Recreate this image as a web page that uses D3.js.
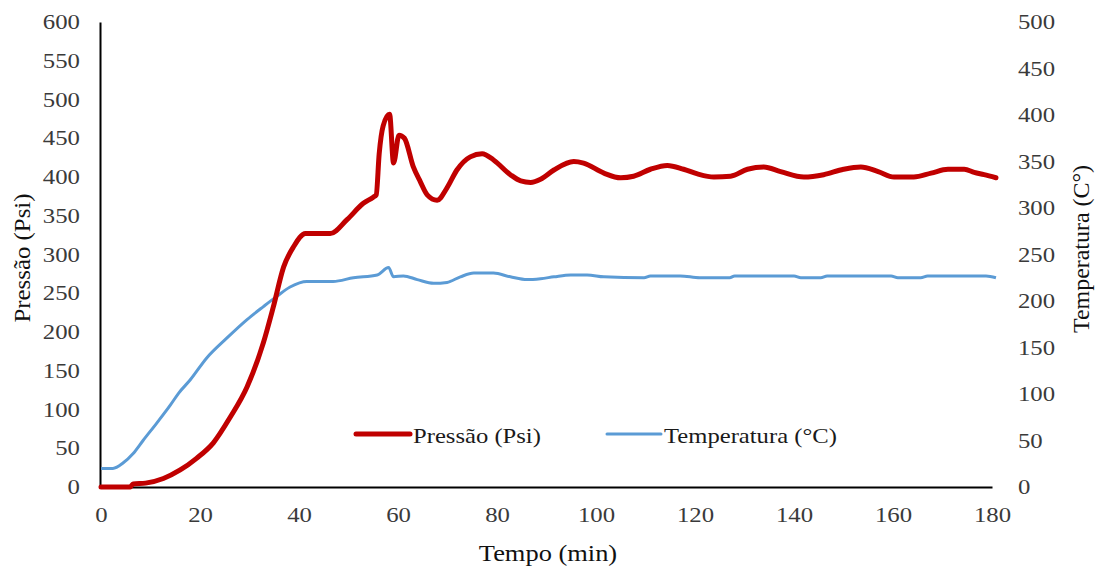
<!DOCTYPE html>
<html><head><meta charset="utf-8">
<script src="https://cdn.jsdelivr.net/npm/d3@7"></script>
<style>body{margin:0;background:#fff}svg{display:block}
svg text{font-family:"Liberation Serif","Tinos","Times New Roman","DejaVu Serif",serif !important;}</style>
</head><body><svg id="c" width="1097" height="569"></svg>
<script>
const xTicks = [0,20,40,60,80,100,120,140,160,180];
const leftTicks = [0,50,100,150,200,250,300,350,400,450,500,550,600];
const rightTicks = [0,50,100,150,200,250,300,350,400,450,500];

const pressTime = [0,5.9,6.5,9,12.6,16,19.3,22.7,26.1,29.5,32.8,34.8,36.9,38.9,41.3,46.3,49.7,53,55,55.6,56.2,57,58.3,59.1,60.2,61.3,63.1,64.5,65.9,67.9,69.9,71.9,74.6,77,79.3,82.7,84.8,86.8,88.8,91.5,95.5,97.5,101.6,105,107.6,111,114.4,117.7,120.5,123.8,127.2,130.6,133.9,137.3,142,146,150,153.5,157,160.2,164.2,167.7,171.1,174.4,176.4,178.4,180.8];
const pressure  = [0,0,4,5,11,22,37,57,90,129,186,232,284,310,327,327,345,366,374,377,430,466,481,418,454,450,413,394,377,370,386,409,426,430,422,403,395,393,397,409,420,418,405,399,401,410,415,410,404,400,401,410,413,407,400,403,410,413,407,400,400,405,410,410,406,403,399];

const tempTime = [0,2.4,4.5,6.5,8.5,11.3,14,15.7,18,21.4,25.4,29.5,32.8,35.5,38.2,41.6,46.9,51,55.8,58.1,59.1,61.1,63.9,67.2,69.9,72.6,75.3,79.3,82.7,86.1,88.8,91.5,94.9,98.2,101.6,109.7,111,117,121,127,128,140,141.4,145.4,146.7,159.6,161,165.6,167,178.8,180.8];
const temperature = [20,20,26,36,50,69,88,101,115,139,160,180,194,205,215,221,221,225,228,236,226,227,223,219,220,226,230,230,226,223,224,226,228,228,226,225,227,227,225,225,227,227,225,225,227,227,225,225,227,227,225];

const svg = d3.select("#c");
const x = d3.scaleLinear().domain([0,180]).range([101,992]);
const yL = d3.scaleLinear().domain([0,600]).range([487,22]);
const yR = d3.scaleLinear().domain([0,500]).range([487,22]);
const SX = 1.18;
function stretch(sel){
  sel.each(function(){
    const t = d3.select(this);
    const xv = +t.attr("x") || 0;
    t.attr("x", xv/SX).attr("transform", `scale(${SX},1)`);
  });
}

const gx = svg.append("g").attr("transform","translate(0,487)")
  .call(d3.axisBottom(x).tickValues(xTicks).tickSize(0).tickPadding(20));
gx.select(".domain").attr("stroke","#000").attr("stroke-width",2);
gx.selectAll("text").attr("font-size",21).attr("fill","#3a3a3a").call(stretch);

const gl = svg.append("g").attr("transform","translate(100,0)")
  .call(d3.axisLeft(yL).tickValues(leftTicks).tickSize(0).tickPadding(20));
gl.select(".domain").attr("stroke","#000").attr("stroke-width",2);
gl.selectAll("text").attr("font-size",21).attr("fill","#3a3a3a").call(stretch);

const gr = svg.append("g").attr("transform","translate(993,0)")
  .call(d3.axisRight(yR).tickValues(rightTicks).tickSize(0).tickPadding(25));
gr.select(".domain").remove();
gr.selectAll("text").attr("font-size",21).attr("fill","#3a3a3a").call(stretch);

const lp = d3.line().x((d,i)=>x(pressTime[i])).y(d=>yL(d)).curve(d3.curveMonotoneX);
const lt = d3.line().x((d,i)=>x(tempTime[i])).y(d=>yR(d)).curve(d3.curveMonotoneX);
svg.append("path").datum(temperature).attr("d",lt).attr("fill","none")
  .attr("stroke","#5B9BD5").attr("stroke-width",3).attr("stroke-linejoin","round");
svg.append("path").datum(pressure).attr("d",lp).attr("fill","none")
  .attr("stroke","#C00000").attr("stroke-width",5).attr("stroke-linejoin","round").attr("stroke-linecap","round");

svg.append("text").attr("transform","translate(30,258) rotate(-90) scale(1.08,1)").attr("text-anchor","middle")
  .attr("font-size",23).attr("fill","#111").text("Pressão (Psi)");
svg.append("text").attr("transform","translate(1089,249) rotate(-90) scale(1.04,1)").attr("text-anchor","middle")
  .attr("font-size",23).attr("fill","#111").text("Temperatura (C°)");
svg.append("text").attr("transform","translate(548,561) scale(1.15,1)").attr("text-anchor","middle")
  .attr("font-size",23).attr("fill","#111").text("Tempo (min)");

const leg = [{name:"Pressão (Psi)",color:"#C00000",w:5,x0:356},{name:"Temperatura (°C)",color:"#5B9BD5",w:3,x0:607}];
leg.forEach(l=>{
  svg.append("line").attr("x1",l.x0).attr("x2",l.x0+54).attr("y1",434).attr("y2",434)
    .attr("stroke",l.color).attr("stroke-width",l.w).attr("stroke-linecap","round");
  svg.append("text").attr("transform",`translate(${l.x0+57},443) scale(1.12,1)`).attr("font-size",22)
    .attr("fill","#1a1a1a").text(l.name);
});
</script></body></html>
